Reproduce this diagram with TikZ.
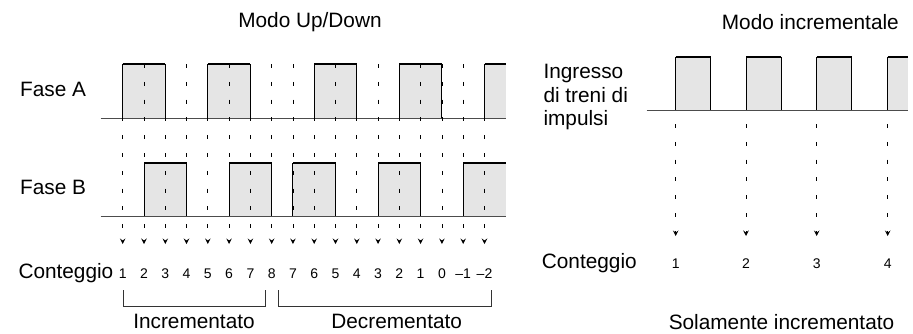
\documentclass[tikz,border=0pt]{standalone}
\usepackage{fontspec}
\setmainfont{Liberation Sans}
\usetikzlibrary{arrows.meta}
\begin{document}
\begin{tikzpicture}[x=1pt,y=-1pt,
  lbl/.style={font=\fontsize{20.8}{23.5}\selectfont, inner sep=0pt},
  num/.style={font=\fontsize{14}{16}\selectfont, inner sep=0pt},
  pfill/.style={fill=gray!20},
  pedge/.style={draw=black, line width=0.9pt},
  ptop/.style={draw=black, line width=2pt},
  baseln/.style={draw=black!70, line width=1pt},
  tickln/.style={draw=black, line width=0.8pt, dash pattern=on 4pt off 13.8pt,
    -{Stealth[length=5.5pt,width=5.5pt,inset=2pt]}},
  brk/.style={draw=black!80, line width=0.9pt}
]
\useasboundingbox (0,0) rectangle (913,333);

% ---------- left: Up/Down mode ----------
\node[lbl] (t1) at (310,22) {Modo Up/Down};
\node[lbl, anchor=west] (fa) at (20,89.7) {Fase A};
\node[lbl, anchor=west] (fb) at (20,187) {Fase B};
\node[lbl, anchor=west] (c1) at (18.3,273.3) {Conteggio};

% phase A pulses
\foreach \a/\b in {122.7/165.3, 207.8/250.4, 314.2/356.8, 399.3/441.9}{
  \fill[pfill] (\a,118.3) rectangle (\b,64.3);
  \draw[pedge] (\a,118.3) -- (\a,64.3);
  \draw[pedge] (\b,64.3) -- (\b,118.3);
  \draw[ptop] (\a,64.3) -- (\b,64.3);
}
\fill[pfill] (484.5,118.3) rectangle (506,64.3);
\draw[pedge] (484.5,118.3) -- (484.5,64.3);
\draw[ptop] (484.5,64.3) -- (506,64.3);
\draw[baseln] (100.7,118.3) -- (506,118.3);

% phase B pulses
\foreach \a/\b in {144.0/186.5, 229.1/271.7, 292.9/335.5, 378.1/420.6}{
  \fill[pfill] (\a,216) rectangle (\b,162.7);
  \draw[pedge] (\a,216) -- (\a,162.7);
  \draw[pedge] (\b,162.7) -- (\b,216);
  \draw[ptop] (\a,162.7) -- (\b,162.7);
}
\fill[pfill] (463.2,216) rectangle (506,162.7);
\draw[pedge] (463.2,216) -- (463.2,162.7);
\draw[ptop] (463.2,162.7) -- (506,162.7);
\draw[baseln] (100.7,216) -- (506,216);

% dashed count lines and numbers
\foreach \x/\n [count=\i] in {122.7/1, 144.0/2, 165.3/3, 186.5/4, 207.8/5, 229.1/6,
  250.4/7, 271.7/8, 292.9/7, 314.2/6, 335.5/5, 356.8/4, 378.1/3, 399.3/2,
  420.6/1, 441.9/0, 463.2/\textendash1, 484.5/\textendash2}{
  \coordinate (ls\i) at (\x,64);
  \coordinate (le\i) at (\x,244);
  \draw[tickln] (ls\i) -- (le\i);
  \node[num] (n\i) at (\x,273.3) {\n};
}

% brackets
\draw[brk] (123.3,290) |- (265,306.7) -- (265,290);
\draw[brk] (278.3,290) |- (491.7,306.7) -- (491.7,290);
\node[lbl] (inc) at (194,321.7) {Incrementato};
\node[lbl] (dec) at (396.7,321.7) {Decrementato};

% ---------- right: incremental mode ----------
\node[lbl, anchor=east] (t2) at (899,22) {Modo incrementale};
\node[lbl, anchor=west, align=left] (ing) at (543.3,97) {Ingresso\\di treni di\\impulsi};
\node[lbl, anchor=west] (c2) at (541.7,263.3) {Conteggio};

\foreach \a/\b in {675.7/710.7, 746/781, 816.7/851.7}{
  \fill[pfill] (\a,110) rectangle (\b,56.7);
  \draw[pedge] (\a,110) -- (\a,56.7);
  \draw[pedge] (\b,56.7) -- (\b,110);
  \draw[ptop] (\a,56.7) -- (\b,56.7);
}
\fill[pfill] (887.7,110) rectangle (908,56.7);
\draw[pedge] (887.7,110) -- (887.7,56.7);
\draw[ptop] (887.7,56.7) -- (908,56.7);
\draw[baseln] (646.7,110) -- (908,110);

\foreach \x/\n [count=\i] in {675.7/1, 746/2, 816.7/3, 887.7/4}{
  \coordinate (rs\i) at (\x,124);
  \coordinate (re\i) at (\x,236);
  \draw[tickln] (rs\i) -- (re\i);
  \node[num] (m\i) at (\x,263.3) {\n};
}
\node[lbl] (sol) at (781.5,322) {Solamente incrementato};
\end{tikzpicture}
\end{document}
